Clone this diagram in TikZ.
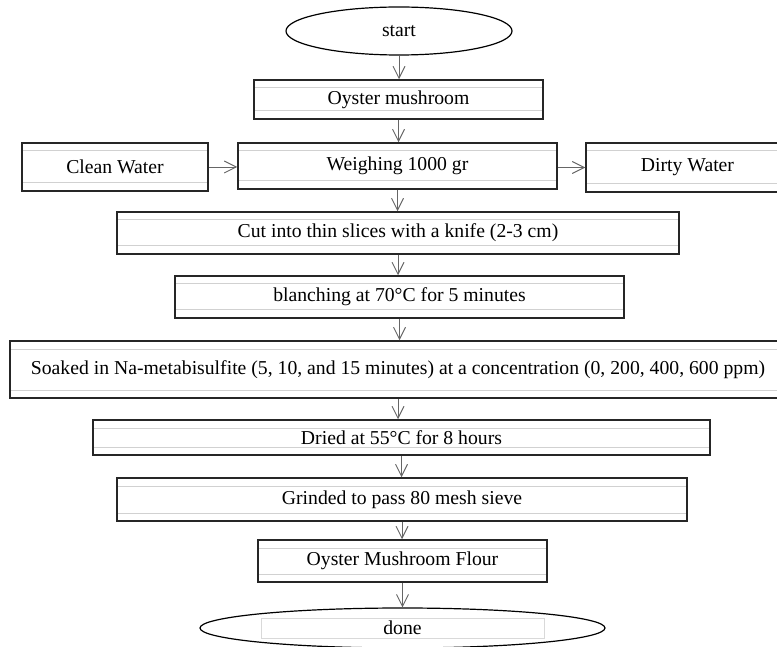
\documentclass[tikz,border=0pt]{standalone}
\usepackage{fontspec}
\setmainfont{Liberation Serif}
\usetikzlibrary{shapes.geometric,arrows.meta}

\begin{document}
\begin{tikzpicture}[x=1pt,y=-1pt,font=\fontsize{19.7}{23}\selectfont,
        box/.style={draw=black!85,line width=1.5pt,inner sep=0pt,
            path picture={\draw[black!18,line width=1pt]
                ([yshift=-8pt]path picture bounding box.north west) -- ([yshift=-8pt]path picture bounding box.north east)
                ([yshift=8pt]path picture bounding box.south west) -- ([yshift=8pt]path picture bounding box.south east);}},
        term/.style={ellipse,draw=black,line width=1.2pt,inner sep=0pt},
        arr/.style={draw=black!60,line width=0.9pt,-{Straight Barb[length=12pt,width=12pt]}}]
        \useasboundingbox (0,0) rectangle (777,647);

        \node[term,minimum width=226,minimum height=48] (start) at (399,31) {start};
        \node[box,minimum width=289,minimum height=39] (oyster) at (398.5,99.5) {Oyster mushroom};
        \node[box,minimum width=319,minimum height=46] (weigh) at (397.5,166) {Weighing 1000 gr};
        \node[box,minimum width=186,minimum height=48] (clean) at (115,167) {Clean Water};
        \node[box,minimum width=203,minimum height=49] (dirty) at (687.5,167.5) {Dirty Water};
        \node[box,minimum width=562,minimum height=42] (cut) at (398,233) {Cut into thin slices with a knife (2-3 cm)};
        \node[box,minimum width=449,minimum height=42] (blanch) at (399.5,297) {blanching at 70°C for 5 minutes};
        \node[box,minimum width=776,minimum height=57] (soak) at (398,369.5) {Soaked in Na-metabisulfite (5, 10, and 15 minutes) at a concentration (0, 200, 400, 600 ppm)};
        \node[box,minimum width=617,minimum height=35] (dried) at (401.5,437.5) {Dried at 55°C for 8 hours};
        \node[box,minimum width=570,minimum height=43] (grind) at (402,499.5) {Grinded to pass 80 mesh sieve};
        \node[box,minimum width=289,minimum height=42] (flour) at (402.5,561) {Oyster Mushroom Flour};
        \node[term,minimum width=405,minimum height=40,
            path picture={\draw[black!15,line width=0.8pt]
                ([shift={(-141.5,-10)}]path picture bounding box.center) rectangle ([shift={(141.5,10)}]path picture bounding box.center);}]
            (done) at (402.5,628) {done};

        \foreach \a/\b in {start/oyster, oyster/weigh, weigh/cut, cut/blanch, blanch/soak, soak/dried, dried/grind, grind/flour, flour/done}
        {
            \draw[arr] (\a) -- (\a |- \b.north);
        }
        \draw[arr] (clean) -- (clean -| weigh.west);
        \draw[arr] (weigh.east |- dirty) -- (dirty.west);
    \end{tikzpicture}
\end{document}
